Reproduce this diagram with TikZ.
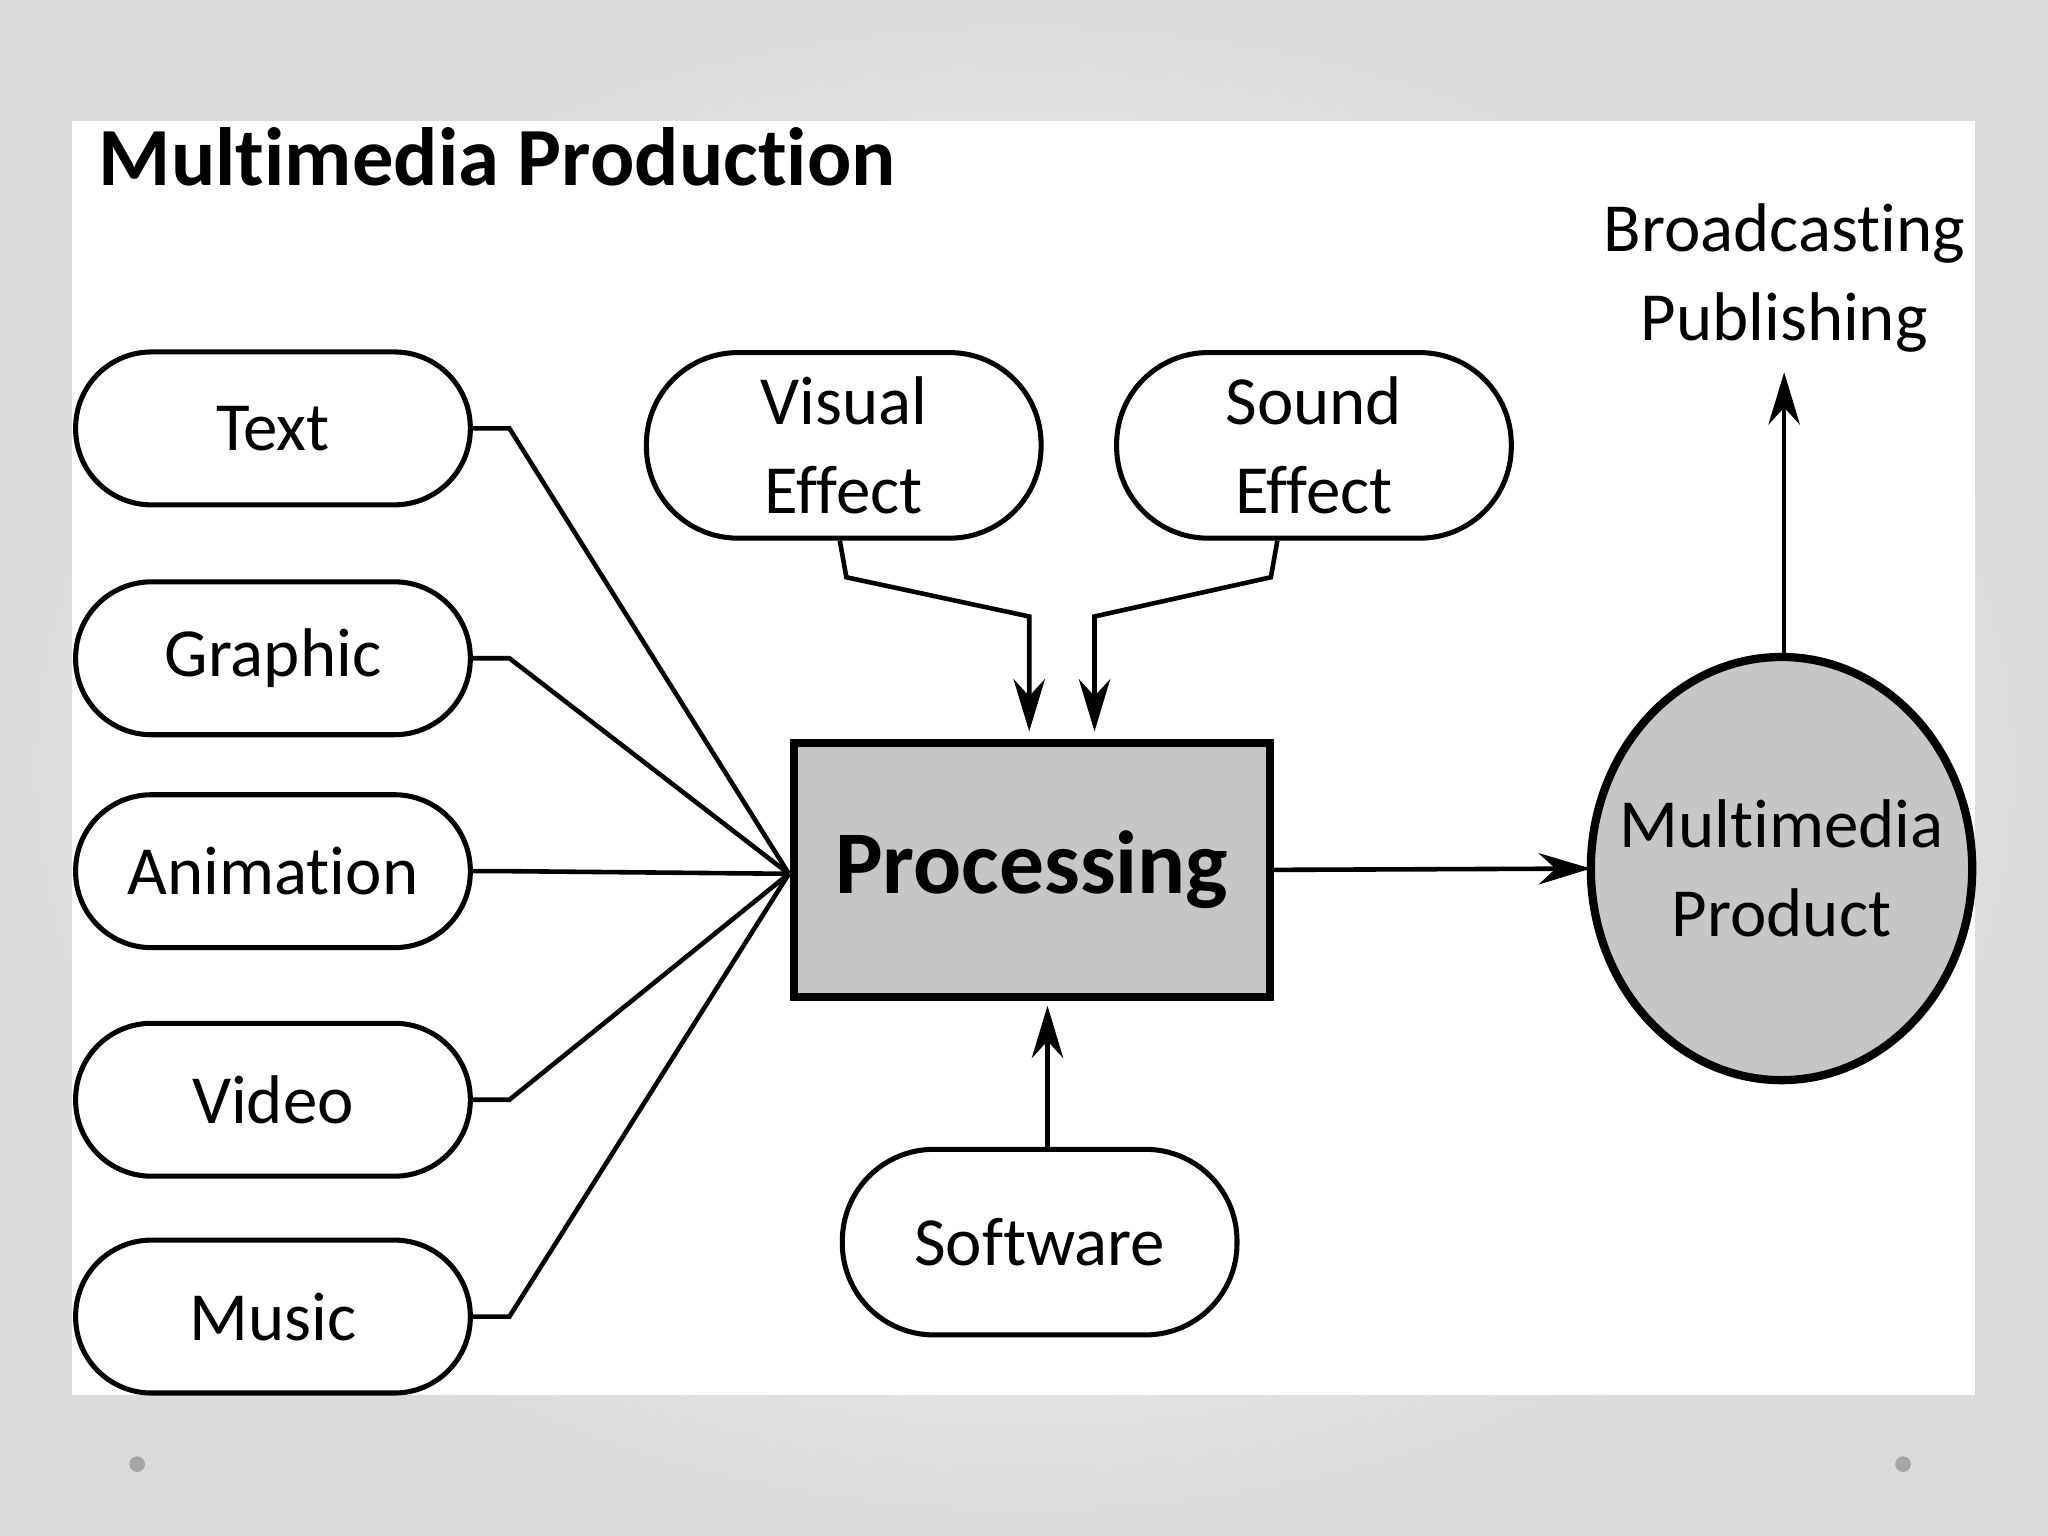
\documentclass[tikz,border=0pt]{standalone}
\usepackage{fontspec}
\setmainfont[Ligatures={NoCommon}]{Carlito}
\usetikzlibrary{arrows.meta,shapes.geometric}

\tikzset{
  source/.style={draw,line width=1.1pt,rounded corners=0.58cm,minimum width=3.02cm,minimum height=1.17cm,align=center,font=\fontsize{15}{19.4}\selectfont},
  effect/.style={source,minimum height=1.42cm,rounded corners=0.7cm},
  feed/.style={line width=1pt},
  flow/.style={line width=1pt,-{Stealth[length=0.4cm,width=0.24cm]}}
}

\begin{document}
\begin{tikzpicture}[x=0.01cm,y=-0.01cm]

%slide background
\useasboundingbox (0,0) rectangle (1568,1176);
\shade[inner color=white,outer color=gray!28] (0,0) rectangle (1568,1176);
\fill[white] (55,93) rectangle (1512,1068);
\fill[gray!70] (105,1121) circle (6) (1457,1121) circle (6);

%title
\node[anchor=west,inner sep=0pt,font=\fontsize{18}{22}\selectfont\bfseries] (title) at (75,120) {Multimedia Production};

%sources on the left
\node[source] (text) at (209,328) {Text};
\node[source] (graphic) at (209,504) {Graphic};
\node[source] (anim) at (209,667) {Animation};
\node[source] (video) at (209,842) {Video};
\node[source] (music) at (209,1008) {Music};

%effects and software
\node[effect] (visual) at (646,341) {Visual\\Effect};
\node[effect] (sound) at (1006,341) {Sound\\Effect};
\node[effect] (soft) at (796,951) {Software};

%processing and product
\node[draw,line width=1.8pt,fill=gray!45,minimum width=3.64cm,minimum height=1.94cm,font=\fontsize{19.5}{24}\selectfont\bfseries] (proc) at (790,666) {Processing};
\draw[line width=1.8pt,fill=gray!45] (1364,665) ellipse (146 and 162);
\node[align=center,font=\fontsize{15}{19.4}\selectfont] (prod) at (1364,665) {Multimedia\\Product};
\coordinate (prodw) at (1218,665);
\coordinate (prodn) at (1366,503);
\node[align=center,font=\fontsize{15}{19.4}\selectfont] (out) at (1366,213) {Broadcasting\\Publishing};

\coordinate (hub) at (604,669);
\coordinate (outtip) at (1366,285);

%connectors into processing
\foreach \s in {text,graphic,anim,video,music}
  \draw[feed] (\s.east) -- ++(28,0) -- (hub);
\draw[flow] (visual.south) ++(-3,0) -- ++(5,28) -- (788,472) -- (788,560);
\draw[flow] (sound.south) ++(-28,0) -- ++(-5,28) -- (838,472) -- (838,560);
\draw[flow] (soft.north -| 802,0) -- (802,770);
\draw[flow] (proc.east) -- (prodw);
\draw[flow] (prodn) -- (outtip);

\end{tikzpicture}
\end{document}
